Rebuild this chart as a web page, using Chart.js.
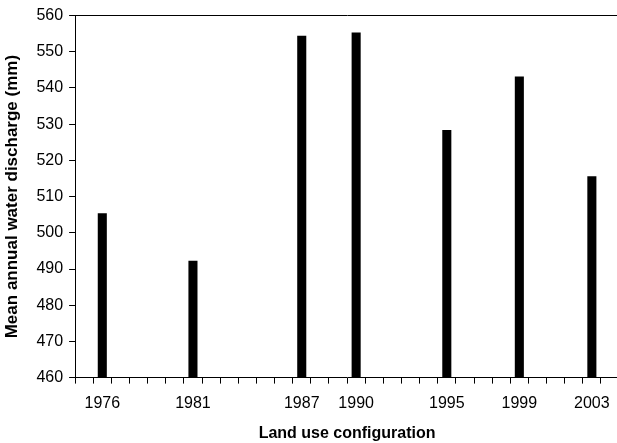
<!DOCTYPE html>
<html>
<head>
<meta charset="utf-8">
<script src="https://cdn.jsdelivr.net/npm/chart.js@4/dist/chart.umd.min.js"></script>
<style>
  html, body { margin: 0; padding: 0; background: #fff; overflow: hidden; }
  #wrap { width: 620px; height: 443px; }
</style>
</head>
<body>
<div id="wrap"><canvas id="dischargeChart"></canvas></div>
<script>
// one category per year along the axis
const years = ['1975', '1976', '1977', '1978', '1979', '1980', '1981', '1982', '1983', '1984',
               '1985', '1986', '1987', '1988', '1989', '1990', '1991', '1992', '1993', '1994',
               '1995', '1996', '1997', '1998', '1999', '2000', '2001', '2002', '2003', '2004'];
// land use configurations and their discharge (mm)
const configYears = ['1976', '1981', '1987', '1990', '1995', '1999', '2003'];
const discharge = [505.4, 492.3, 554.4, 555.3, 528.4, 543.2, 515.6];
const yTicks = { min: 460, max: 560, step: 10 };

document.addEventListener('DOMContentLoaded', function() {
  const ctx = document.getElementById('dischargeChart');
  const values = years.map(y => {
    const i = configYears.indexOf(y);
    return i >= 0 ? discharge[i] : null;
  });
  const font = { family: '"Liberation Sans", Arial, sans-serif', size: 16 };

  new Chart(ctx, {
    type: 'bar',
    data: {
      labels: years,
      datasets: [{
        label: 'Discharge',
        data: values,
        backgroundColor: '#000',
        borderWidth: 0,
        barPercentage: 0.5,
        categoryPercentage: 1.0
      }]
    },
    options: {
      responsive: true,
      maintainAspectRatio: false,
      animation: false,
      layout: { padding: { left: 2, top: 14, right: 0, bottom: 0 } },
      plugins: {
        legend: { display: false },
        tooltip: { enabled: false }
      },
      scales: {
        x: {
          offset: true,
          grid: {
            offset: true,
            drawOnChartArea: false,
            drawTicks: true,
            tickLength: 6,
            color: '#000'
          },
          border: { display: true, color: '#000', width: 1 },
          ticks: {
            autoSkip: false,
            maxRotation: 0,
            minRotation: 0,
            padding: 10,
            color: '#000',
            font: font,
            callback: function(val) {
              const lab = this.getLabelForValue(val);
              return configYears.includes(lab) ? lab : '';
            }
          },
          title: {
            display: true,
            text: 'Land use configuration',
            color: '#000',
            font: { family: font.family, size: 16, weight: 'bold' },
            padding: { top: 1, bottom: 0 }
          }
        },
        y: {
          min: yTicks.min,
          max: yTicks.max,
          grid: {
            drawTicks: true,
            tickLength: 6,
            tickColor: '#000',
            // only the top edge of the plot is drawn as a line
            color: c => (c.tick && c.tick.value === yTicks.max) ? '#000' : 'rgba(0,0,0,0)'
          },
          border: { display: true, color: '#000', width: 1 },
          ticks: {
            stepSize: yTicks.step,
            padding: 6,
            color: '#000',
            font: font
          },
          title: {
            display: true,
            text: 'Mean annual water discharge (mm)',
            color: '#000',
            font: { family: font.family, size: 17, weight: 'bold' },
            padding: { top: 0, bottom: 8 }
          }
        }
      }
    }
  });
});
</script>
</body>
</html>
